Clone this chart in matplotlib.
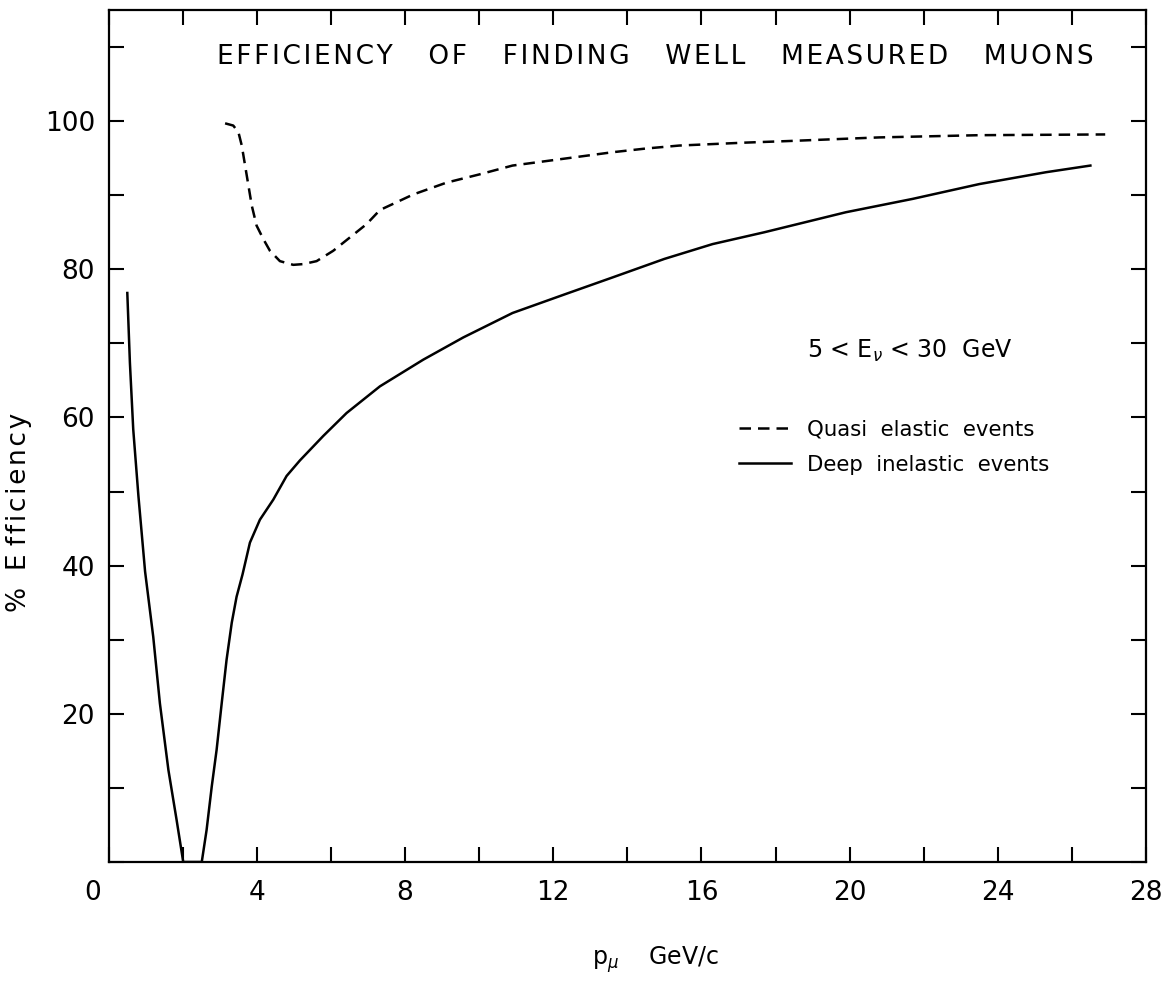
import matplotlib
matplotlib.use("Agg")
import matplotlib.pyplot as plt
from matplotlib.ticker import MultipleLocator
from matplotlib.transforms import ScaledTranslation

# curves (p_mu in GeV/c, efficiency in %)
quasi_p = [3.14, 3.36, 3.50, 3.59, 3.68, 3.77, 3.86, 3.99, 4.17, 4.35, 4.62,
           4.98, 5.25, 5.61, 6.06, 6.51, 6.96, 7.32, 8.22, 9.12, 10.0, 10.9,
           11.8, 12.7, 13.6, 14.5, 15.4, 16.3, 17.2, 18.3, 20.8, 23.5, 26.9]
quasi_eff = [99.7, 99.4, 98.5, 96.7, 94.0, 91.3, 88.6, 85.9, 84.1, 82.5, 81.1,
             80.6, 80.7, 81.1, 82.5, 84.3, 86.1, 88.0, 90.1, 91.7, 92.8, 94.0,
             94.6, 95.2, 95.8, 96.3, 96.7, 96.9, 97.1, 97.3, 97.8, 98.1, 98.2]

deep_p = [0.50, 0.57, 0.66, 0.80, 0.98, 1.20, 1.38, 1.61, 1.83, 2.01, 2.51,
          2.64, 2.78, 2.91, 3.05, 3.18, 3.32, 3.45, 3.61, 3.81, 4.08, 4.44,
          4.80, 5.16, 5.79, 6.42, 7.32, 8.49, 9.57, 10.9, 12.3, 13.6, 15.0,
          16.3, 17.7, 19.9, 21.7, 23.5, 25.3, 26.5]
deep_eff = [76.8, 67.4, 58.4, 49.4, 39.2, 30.4, 21.4, 12.4, 5.7, 0.0, 0.0,
            4.3, 10.2, 15.1, 21.5, 27.3, 32.3, 35.8, 38.8, 43.1, 46.2, 48.9,
            52.1, 54.2, 57.5, 60.6, 64.2, 67.8, 70.8, 74.1, 76.6, 78.9, 81.4,
            83.4, 85.0, 87.7, 89.5, 91.5, 93.1, 94.0]

xticks = [0, 4, 8, 12, 16, 20, 24, 28]
yticks = [20, 40, 60, 80, 100]

title = "EFFICIENCY   OF   FINDING   WELL   MEASURED   MUONS"

fig = plt.figure(figsize=(11.71, 9.98), dpi=100)
ax = fig.add_axes([0.0929, 0.1363, 0.8857, 0.8537])

ax.plot(quasi_p, quasi_eff, color="black", lw=1.8, ls=(0, (4.6, 2.8)),
        label="Quasi  elastic  events")
ax.plot(deep_p, deep_eff, color="black", lw=1.8,
        label="Deep  inelastic  events")

ax.set_xlim(0, 28)
ax.set_ylim(0, 115)
ax.set_xticks(xticks)
ax.set_yticks(yticks)
ax.xaxis.set_minor_locator(MultipleLocator(2))
ax.yaxis.set_minor_locator(MultipleLocator(10))
ax.tick_params(which="both", direction="in", top=True, right=True,
               length=11, width=1.5, labelsize=19)
ax.tick_params(axis="x", pad=13)
ax.tick_params(axis="y", pad=10)
for s in ax.spines.values():
    s.set_linewidth(1.6)

# the "0" sits a bit left of the corner in the original
lab0 = ax.get_xticklabels()[0]
lab0.set_transform(lab0.get_transform() + ScaledTranslation(-0.16, 0, fig.dpi_scale_trans))

spaced = "\u200a".join(title)
ax.text(0.527, 0.945, spaced, transform=ax.transAxes, ha="center",
        va="center", fontsize=19)

ax.text(0.673, 0.600, r"5 < E$_\nu$ < 30  GeV", transform=ax.transAxes,
        ha="left", va="center", fontsize=17)

ax.legend(loc="center left", bbox_to_anchor=(0.597, 0.487), frameon=False,
          fontsize=15.3, handlelength=2.45, handletextpad=0.75,
          labelspacing=0.72, borderpad=0)

ylab = "%  E " + "\u200a".join("fficiency")
ax.set_ylabel(ylab, fontsize=19)
ax.yaxis.set_label_coords(-0.074, 0.41)
fig.text(0.56, 0.038, r"p$_\mu$    GeV/c", fontsize=17, ha="center",
         va="center")

fig.savefig("out.png", dpi=100)
